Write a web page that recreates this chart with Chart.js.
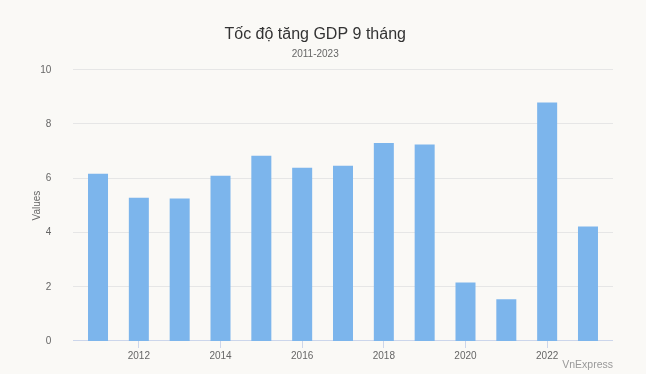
<!DOCTYPE html>
<html>
<head>
<meta charset="utf-8">
<script src="https://cdn.jsdelivr.net/npm/chart.js@4"></script>
<style>
  html, body { margin: 0; padding: 0; background: #faf9f6; }
  canvas { display: block; }
</style>
</head>
<body>
<canvas id="gdpChart" width="646" height="374"></canvas>
<script>
const years = ["2011", "2012", "2013", "2014", "2015", "2016", "2017", "2018", "2019", "2020", "2021", "2022", "2023"];
const growth = [6.18, 5.29, 5.26, 6.10, 6.84, 6.40, 6.47, 7.31, 7.26, 2.16, 1.54, 8.81, 4.23];
const yTicks = [0, 2, 4, 6, 8, 10];

const FONT = "'Liberation Sans', Arial, sans-serif";

const bg = {
    id: "bg",
    beforeDraw(chart) {
        const ctx = chart.ctx;
        ctx.save();
        ctx.fillStyle = "#faf9f6";
        ctx.fillRect(0, 0, chart.width, chart.height);
        ctx.restore();
    }
};

// horizontal grid lines run a little past the outer bars
const gridLines = {
    id: "gridLines",
    beforeDatasetsDraw(chart) {
        const ctx = chart.ctx;
        const area = chart.chartArea;
        const y = chart.scales.y;
        const ext = 4.6;
        ctx.save();
        ctx.lineWidth = 1;
        yTicks.forEach(v => {
            const py = Math.round(y.getPixelForValue(v)) - 0.5;
            ctx.strokeStyle = v === 0 ? "#ccd6eb" : "#e6e6e6";
            ctx.beginPath();
            ctx.moveTo(area.left - ext, py);
            ctx.lineTo(area.right + ext, py);
            ctx.stroke();
        });
        ctx.restore();
    }
};

// credit text in the bottom right corner
const credits = {
    id: "credits",
    afterDraw(chart) {
        const ctx = chart.ctx;
        ctx.save();
        ctx.font = "10.5px " + FONT;
        ctx.fillStyle = "#999999";
        ctx.textAlign = "right";
        ctx.textBaseline = "alphabetic";
        ctx.fillText("VnExpress", chart.chartArea.right + 4.6, 368);
        ctx.restore();
    }
};

new Chart(document.getElementById("gdpChart"), {
    type: "bar",
    data: {
        labels: years,
        datasets: [{
            label: "Values",
            data: growth,
            backgroundColor: "#7cb5ec",
            borderWidth: 0,
            barPercentage: 1,
            categoryPercentage: 0.49
        }]
    },
    options: {
        responsive: false,
        animation: false,
        devicePixelRatio: 1,
        layout: { padding: { left: 22, right: 37.6, top: 10.5, bottom: 10 } },
        plugins: {
            legend: { display: false },
            tooltip: { enabled: false },
            title: {
                display: true,
                text: "Tốc độ tăng GDP 9 tháng",
                color: "#333333",
                font: { family: FONT, size: 16, weight: "normal" },
                padding: { top: 14, bottom: 4 }
            },
            subtitle: {
                display: true,
                text: "2011-2023",
                color: "#666666",
                font: { family: FONT, size: 10, weight: "normal" },
                padding: { top: 0.5, bottom: 10 }
            }
        },
        scales: {
            x: {
                grid: {
                    offset: false,
                    drawOnChartArea: false,
                    drawTicks: true,
                    tickLength: 7,
                    color: "#ccd6eb"
                },
                border: { display: false },
                ticks: {
                    autoSkip: false,
                    maxRotation: 0,
                    color: "#666666",
                    font: { family: FONT, size: 10 },
                    padding: 2,
                    callback: function (value, index) {
                        const y = years[index];
                        return Number(y) % 2 === 0 ? y : null;
                    }
                }
            },
            y: {
                min: yTicks[0],
                max: yTicks[yTicks.length - 1],
                afterBuildTicks: function (axis) {
                    axis.ticks = yTicks.map(v => ({ value: v }));
                },
                afterFit: function (axis) {
                    axis.width = 55.6;
                },
                grid: { display: false },
                border: { display: false },
                ticks: {
                    color: "#666666",
                    font: { family: FONT, size: 10 },
                    padding: 18.3
                },
                title: {
                    display: true,
                    text: "Values",
                    color: "#666666",
                    font: { family: FONT, size: 10 },
                    padding: { top: 9, bottom: 0 }
                }
            }
        }
    },
    plugins: [bg, gridLines, credits]
});
</script>
</body>
</html>
